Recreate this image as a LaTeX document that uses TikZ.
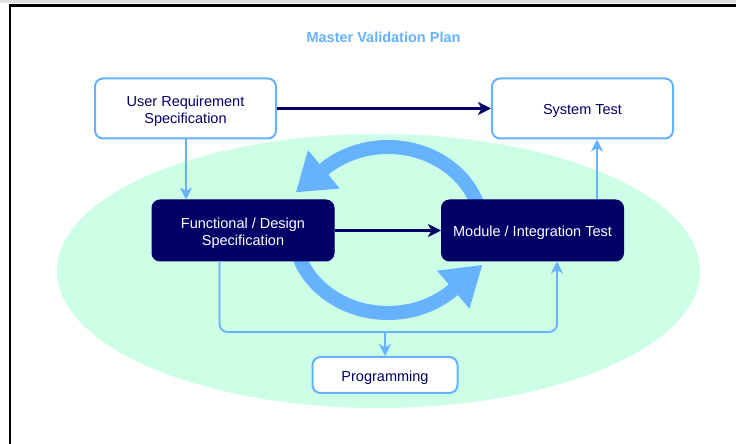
\documentclass[tikz,border=0pt]{standalone}
\usepackage{fontspec}
\setmainfont{Liberation Sans}
\usetikzlibrary{arrows.meta,calc,shapes.geometric}
\definecolor{lblue}{HTML}{66B2FF}
\definecolor{navy}{HTML}{000066}
\definecolor{mint}{HTML}{CCFFE6}
\newcommand{\bxstrut}{\rule[-4pt]{0pt}{21pt}}
\newcommand{\bxdepth}{\rule[-4pt]{0pt}{4pt}}
\tikzset{
  boxtext/.style={font=\fontsize{14.5}{17}\selectfont, align=center, inner sep=0pt},
  wbox/.style={boxtext, draw=lblue, line width=2pt, fill=white, rounded corners=8pt, text=navy},
  nbox/.style={boxtext, draw=navy, line width=1pt, fill=navy, rounded corners=8pt, text=white},
  navyarr/.style={draw=navy, line width=2.2pt, -{Stealth[length=13pt,width=13pt,inset=3.5pt]}},
  lbarr/.style={draw=lblue, line width=1.8pt, -{Stealth[length=12pt,width=12pt,inset=3.5pt]}},
  cyclearc/.style={draw=lblue, line width=14pt},
  cyclehead/.style={fill=lblue},
}
\begin{document}
\begin{tikzpicture}[x=1pt,y=1pt]
\useasboundingbox (0,0) rectangle (736,444);
% outer frame
\fill[black!12] (0,441) rectangle (736,444);
\draw[line width=2.8pt] (10,0) -- (10,438.5) -- (736,438.5);
% title
\node[font=\bfseries\fontsize{14.5}{17}\selectfont, text=lblue] (title) at (383.5,407) {Master Validation Plan};
% ellipse
\node[ellipse, fill=mint, minimum width=643pt, minimum height=274pt, inner sep=0pt] (ell) at (378.5,173) {};
% cycle arrows
\coordinate (cyc) at (388,214);
\draw[cyclearc] ($(cyc)+(15:94pt and 83pt)$) arc[start angle=15, end angle=133, x radius=94pt, y radius=83pt];
\fill[cyclehead] (339.8,255.4) -- (296.1,251.8) -- (308.0,294.0) -- cycle;
\draw[cyclearc] ($(cyc)+(197:94pt and 83pt)$) arc[start angle=197, end angle=314, x radius=94pt, y radius=83pt];
\fill[cyclehead] (437.1,173.3) -- (482.2,179.0) -- (469.5,135.3) -- cycle;
% boxes
\node[wbox, minimum width=181pt, minimum height=60pt] (urs) at (185.5,335.5) {\bxstrut User Requirement\\Specification\bxdepth};
\node[wbox, minimum width=181pt, minimum height=60pt] (st) at (582.5,335.5) {\bxstrut System Test};
\node[nbox, minimum width=182pt, minimum height=61pt] (func) at (243,213.5) {\bxstrut Functional / Design\\Specification\bxdepth};
\node[nbox, minimum width=182pt, minimum height=61pt] (mod) at (532.5,213.5) {\bxstrut Module / Integration Test};
\node[wbox, minimum width=145pt, minimum height=36pt] (prog) at (385,69) {\bxstrut Programming};
% connectors
\coordinate (junc) at (385,112);
\draw[navyarr] (urs.east) -- (st.west);
\draw[navyarr] (func.east) -- (mod.west);
\draw[lbarr] ([xshift=0.5pt]urs.south) -- ([xshift=0.5pt]urs.south |- func.north);
\draw[lbarr] ([xshift=64.5pt]mod.north) -- ([xshift=64.5pt]mod.north |- st.south);
\draw[lbarr, rounded corners=8pt] ([xshift=-23.5pt]func.south) |- (junc) -| ([xshift=24.5pt]mod.south);
\draw[lbarr] (junc) -- (prog.north);
\end{tikzpicture}
\end{document}
